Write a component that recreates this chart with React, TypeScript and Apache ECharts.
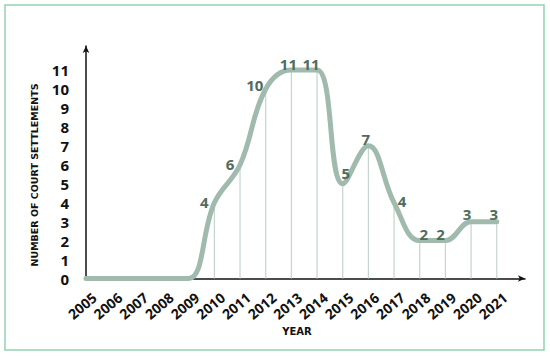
import React, { useEffect, useRef } from "react";
import * as echarts from "echarts";

const years = [2005, 2006, 2007, 2008, 2009, 2010, 2011, 2012, 2013, 2014, 2015, 2016, 2017, 2018, 2019, 2020, 2021];
const settlements = [0, 0, 0, 0, 0, 4, 6, 10, 11, 11, 5, 7, 4, 2, 2, 3, 3];
const yTicks = [0, 1, 2, 3, 4, 5, 6, 7, 8, 9, 10, 11];
const yTitle = "NUMBER OF COURT SETTLEMENTS";
const xTitle = "YEAR";

// label placement per point (styling only)
const labelOffsets: Record<number, [number, number]> = {
  2010: [-10, 12],
  2011: [-10, 12.5],
  2012: [-11, 9],
  2013: [-3, 6.5],
  2014: [-6, 6.5],
  2015: [3, 2],
  2016: [-2.5, 6.5],
  2017: [8, 11],
  2018: [4, 6.5],
  2019: [-5, 6.5],
  2020: [-4, 5],
  2021: [-3, 5],
};

export default function App() {
  const ref = useRef<HTMLDivElement>(null);
  useEffect(() => {
    if (!ref.current) return;
    const chart = echarts.init(ref.current, null, { renderer: "svg" });
    const lineData = years.map((y, i) => {
      const v = settlements[i];
      const off = labelOffsets[y] || [0, 0];
      return {
        value: [y, v],
        label: {
          show: v > 0,
          position: "top",
          offset: off,
        },
      };
    });
    const dropData = years.map((y, i) => [y, settlements[i]]);
    chart.setOption({
      animation: false,
      backgroundColor: "#ffffff",
      graphic: [
        {
          type: "rect",
          shape: { x: 5, y: 5, width: 539, height: 345 },
          style: { fill: "none", stroke: "#93d3b3", lineWidth: 1.5 },
          silent: true,
        },
        {
          type: "text",
          x: 34,
          y: 175,
          rotation: Math.PI / 2,
          style: {
            text: yTitle,
            fontFamily: "DejaVu Sans",
            fontWeight: "bold",
            fontSize: 9.5,
            fill: "#111",
            align: "center",
            verticalAlign: "middle",
          },
          silent: true,
        },
        {
          type: "text",
          x: 297,
          y: 331,
          style: {
            text: xTitle,
            fontFamily: "DejaVu Sans",
            fontWeight: "bold",
            fontSize: 10,
            fill: "#111",
            align: "center",
            verticalAlign: "middle",
          },
          silent: true,
        },
      ],
      grid: { left: 86, right: 25, top: 46, bottom: 77.5, containLabel: false },
      xAxis: {
        type: "value",
        min: 2005,
        max: 2022.1,
        interval: 1,
        axisLine: { show: true, lineStyle: { color: "#111", width: 1.5 }, symbol: ["none", "arrow"], symbolSize: [5, 7] },
        axisTick: { show: false },
        splitLine: { show: false },
        axisLabel: {
          rotate: 40,
          margin: 24,
          align: "center",
          verticalAlign: "middle",
          padding: [0, 10, 0, 0],
          fontFamily: "Open Sans",
          fontWeight: "bold",
          fontSize: 14,
          color: "#111",
          formatter: (v: number) => (years.indexOf(v) >= 0 ? String(v) : ""),
        },
      },
      yAxis: {
        type: "value",
        min: 0,
        max: 12.27,
        interval: 1,
        axisLine: { show: true, lineStyle: { color: "#111", width: 1.5 }, symbol: ["none", "arrow"], symbolSize: [5, 7] },
        axisTick: { show: false },
        splitLine: { show: false },
        axisLabel: {
          margin: 17,
          fontFamily: "Open Sans",
          fontWeight: "bold",
          fontSize: 15,
          color: "#111",
          formatter: (v: number) => (yTicks.indexOf(v) >= 0 ? String(v) : ""),
        },
      },
      series: [
        {
          type: "bar",
          data: dropData,
          barWidth: 1.2,
          itemStyle: { color: "#c5d4cd" },
          silent: true,
          z: 1,
        },
        {
          type: "line",
          data: lineData,
          smooth: 0.4,
          showSymbol: true,
          symbol: "circle",
          symbolSize: 1,
          itemStyle: { color: "rgba(0,0,0,0)" },
          lineStyle: { color: "#a0baad", width: 5, cap: "round" },
          label: {
            fontFamily: "Open Sans",
            fontWeight: "bold",
            fontSize: 15,
            color: "#4f6c60",
          },
          z: 3,
        },
      ],
    });
    return () => chart.dispose();
  }, []);
  return <div ref={ref} style={{ position: "fixed", left: 0, top: 0, width: 550, height: 356 }} />;
}
